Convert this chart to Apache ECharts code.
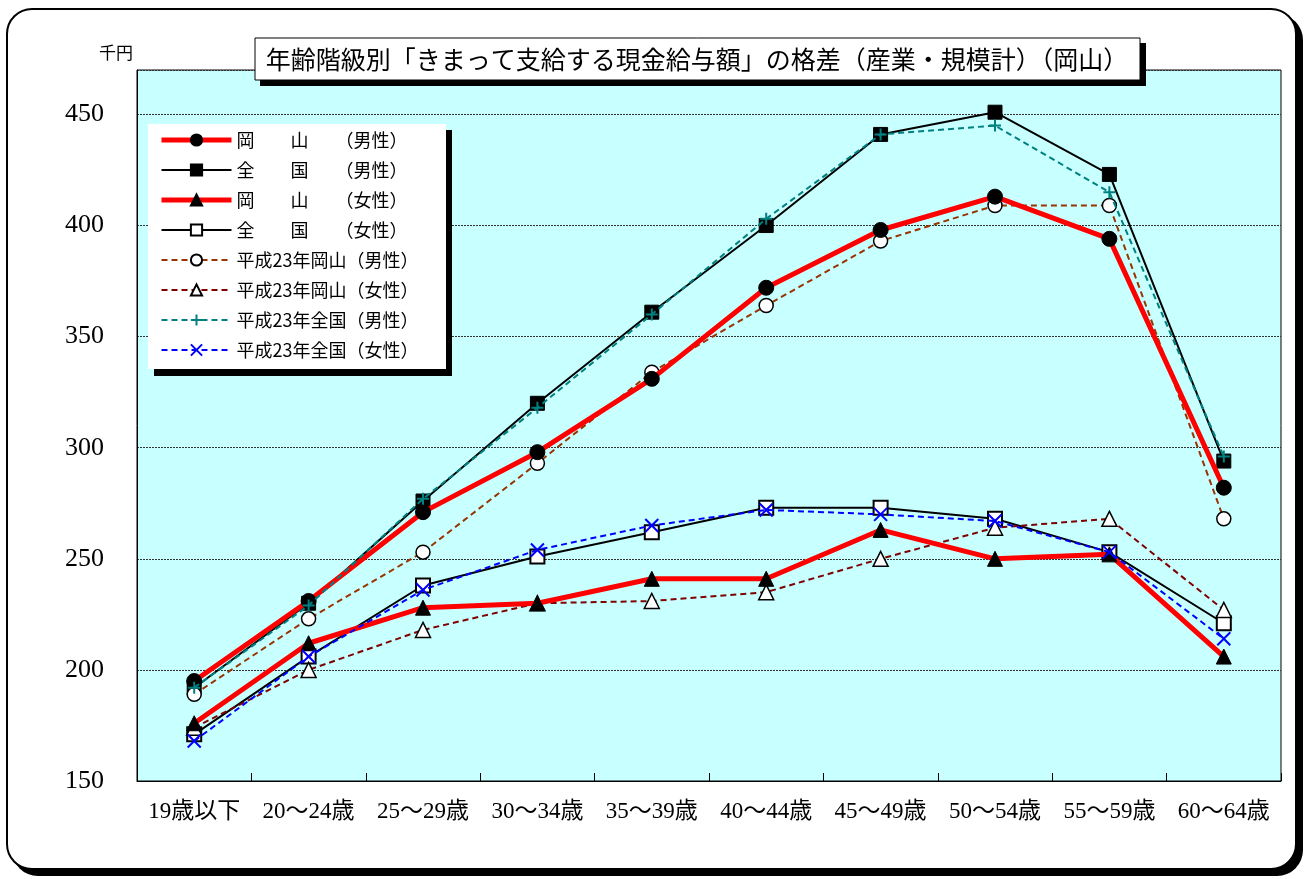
<!DOCTYPE html>
<html>
<head>
<meta charset="utf-8">
<script src="https://cdn.jsdelivr.net/npm/echarts@6/dist/echarts.min.js"></script>
<style>
html,body{margin:0;padding:0;background:#fff;width:1309px;height:879px;overflow:hidden;}
#frame{position:absolute;left:6px;top:8px;width:1287px;height:858px;border:2px solid #000;border-radius:26px;box-shadow:6px 6px 0 #000;background:#fff;}
#chart{position:absolute;left:0;top:0;width:1309px;height:879px;}
</style>
</head>
<body>
<div id="frame"></div>
<div id="chart"></div>
<script>
const categories = ['19歳以下','20～24歳','25～29歳','30～34歳','35～39歳','40～44歳','45～49歳','50～54歳','55～59歳','60～64歳'];
const okayamaMale     = [195, 231, 271, 298, 331, 372, 398, 413, 394, 282];
const nationalMale    = [192, 230, 276, 320, 361, 400, 441, 451, 423, 294];
const okayamaFemale   = [176, 212, 228, 230, 241, 241, 263, 250, 252, 206];
const nationalFemale  = [171, 206, 238, 251, 262, 273, 273, 268, 253, 221];
const h23OkayamaMale  = [189, 223, 253, 293, 334, 364, 393, 409, 409, 268];
const h23OkayamaFemale= [174, 200, 218, 230, 231, 235, 250, 264, 268, 227];
const h23NationalMale = [192, 229, 277, 318, 360, 403, 441, 445, 415, 296];
const h23NationalFemale=[168, 206, 236, 254, 265, 272, 270, 267, 253, 214];
const seriesNames = ['岡　　山　　（男性）','全　　国　　（男性）','岡　　山　　（女性）','全　　国　　（女性）','平成23年岡山（男性）','平成23年岡山（女性）','平成23年全国（男性）','平成23年全国（女性）'];
const titleText = '年齢階級別「きまって支給する現金給与額」の格差（産業・規模計）（岡山）';
const unitText = '千円';

const CJK = '"Noto Sans CJK JP"';
const SERIF = '"Liberation Serif", "Noto Sans CJK JP"';

const styles = [
  { symbol: 'circle', size: 15, color: '#FF0000', width: 5, item: { color: '#000', borderColor: '#000', borderWidth: 1 }, z: 3 },
  { symbol: 'rect', size: 14, color: '#000', width: 2, item: { color: '#000', borderColor: '#000', borderWidth: 1 } },
  { symbol: 'triangle', size: 15, color: '#FF0000', width: 5, item: { color: '#000', borderColor: '#000', borderWidth: 1 }, z: 3 },
  { symbol: 'rect', size: 14, color: '#000', width: 2, item: { color: '#fff', borderColor: '#000', borderWidth: 2 } },
  { symbol: 'circle', size: 14, color: '#993300', width: 2, dash: true, item: { color: '#fff', borderColor: '#000', borderWidth: 1.5 } },
  { symbol: 'triangle', size: 15, color: '#800000', width: 2, dash: true, item: { color: '#fff', borderColor: '#000', borderWidth: 1.5 } },
  { symbol: 'path://M5,0L5,10M0,5L10,5', size: 12, color: '#008080', width: 2, dash: true, item: { color: '#008080', borderColor: '#008080', borderWidth: 2 }, z: 4 },
  { symbol: 'path://M0,0L10,10M10,0L0,10', size: 13, color: '#0000FF', width: 2, dash: true, item: { color: '#0000FF', borderColor: '#0000FF', borderWidth: 2 }, z: 4 }
];
const dataSets = [okayamaMale, nationalMale, okayamaFemale, nationalFemale, h23OkayamaMale, h23OkayamaFemale, h23NationalMale, h23NationalFemale];

function mk(name, data, o) {
  return {
    name: name, type: 'line', data: data,
    symbol: o.symbol, symbolSize: o.size || 14,
    lineStyle: { color: o.color, width: o.width, type: o.dash ? [6, 4] : 'solid' },
    itemStyle: o.item,
    z: o.z || 2
  };
}

const chart = echarts.init(document.getElementById('chart'), null, { renderer: 'canvas' });
const option = {
  backgroundColor: 'transparent',
  animation: false,
  grid: { left: 137, right: 28, top: 70, bottom: 98, show: true, backgroundColor: '#C8FFFF', borderColor: '#000', borderWidth: 1 },
  xAxis: {
    type: 'category', data: categories, boundaryGap: true,
    axisLine: { lineStyle: { color: '#000', width: 1 } },
    axisTick: { show: true, inside: true, length: 8, lineStyle: { color: '#000' } },
    axisLabel: { color: '#000', fontSize: 23, fontFamily: SERIF, margin: 19, interval: 0 }
  },
  yAxis: {
    type: 'value', min: 150, max: 470, interval: 50,
    axisLine: { show: true, lineStyle: { color: '#000' } },
    axisTick: { show: false },
    axisLabel: { color: '#000', fontSize: 26, fontFamily: SERIF, margin: 33, showMaxLabel: false,
      formatter: v => (v > 450 ? '' : String(v)) },
    splitLine: { show: true, lineStyle: { color: '#333', type: [2, 1], width: 1 } }
  },
  legend: {
    orient: 'vertical', left: 148, top: 124, padding: [7, 10, 7, 11],
    itemWidth: 70, itemHeight: 14, itemGap: 12, z: 30,
    data: seriesNames.map((n, i) => ({ name: n, lineStyle: { width: styles[i].width } })),
    textStyle: { fontSize: 18, lineHeight: 18, fontFamily: CJK, color: '#000' },
    backgroundColor: 'transparent'
  },
  graphic: [
    { type: 'rect', z: 20, shape: { x: 154, y: 130, width: 298, height: 246 }, style: { fill: '#000' } },
    { type: 'rect', z: 21, shape: { x: 148, y: 124, width: 298, height: 245 }, style: { fill: '#fff' } },
    { type: 'rect', z: 20, shape: { x: 260, y: 43, width: 886, height: 43 }, style: { fill: '#000' } },
    { type: 'rect', z: 21, shape: { x: 255, y: 38, width: 885, height: 42 }, style: { fill: '#fff', stroke: '#000', lineWidth: 1 } },
    { type: 'text', z: 31, x: 697, y: 59, style: { text: titleText, fill: '#000', font: '25px ' + CJK, textAlign: 'center', textVerticalAlign: 'middle' } },
    { type: 'text', z: 31, x: 116, y: 53, style: { text: unitText, fill: '#000', font: '17px ' + CJK, textAlign: 'center', textVerticalAlign: 'middle' } }
  ],
  series: seriesNames.map((n, i) => mk(n, dataSets[i], styles[i]))
};
chart.setOption(option);
</script>
</body>
</html>
